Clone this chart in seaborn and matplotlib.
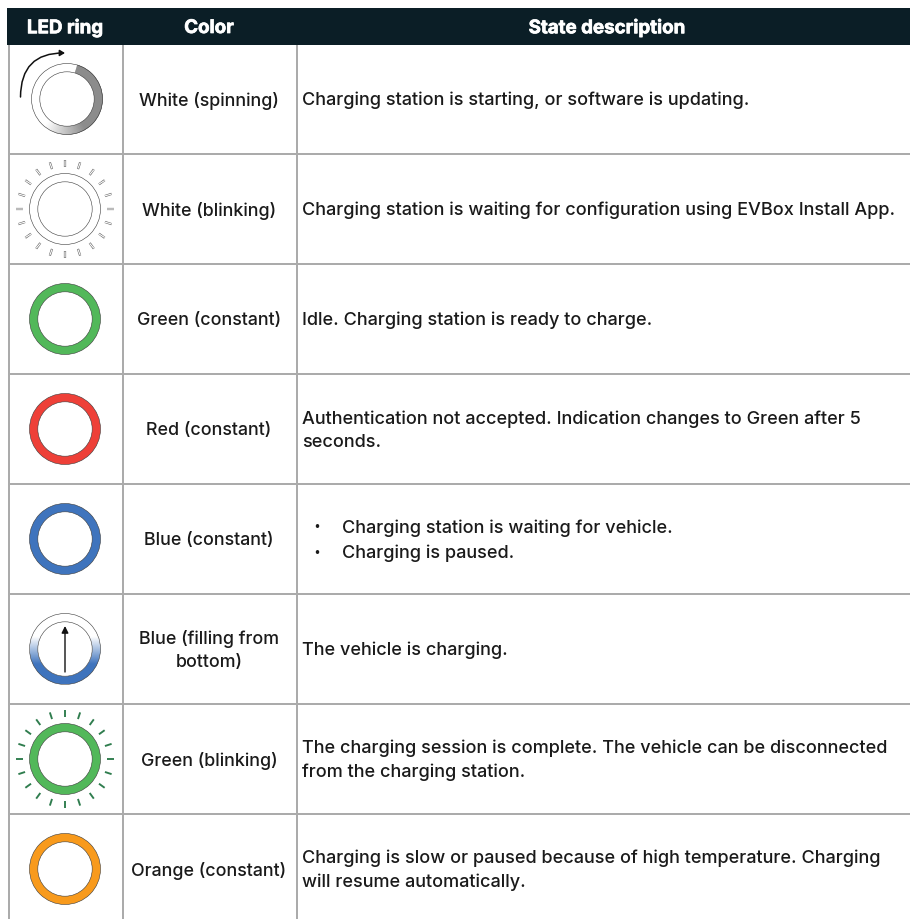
import numpy as np
import pandas as pd
import seaborn as sns
import matplotlib.pyplot as plt
import matplotlib.patheffects as pe
from matplotlib.colors import LinearSegmentedColormap
from matplotlib.patches import Wedge, Rectangle, FancyArrowPatch

color_names = ['White (spinning)', 'White (blinking)', 'Green (constant)', 'Red (constant)',
               'Blue (constant)', 'Blue (filling from\nbottom)', 'Green (blinking)', 'Orange (constant)']
descriptions = ['Charging station is starting, or software is updating.',
                'Charging station is waiting for configuration using EVBox Install App.',
                'Idle. Charging station is ready to charge.',
                'Authentication not accepted. Indication changes to Green after 5\nseconds.',
                None,
                'The vehicle is charging.',
                'The charging session is complete. The vehicle can be disconnected\nfrom the charging station.',
                'Charging is slow or paused because of high temperature. Charging\nwill resume automatically.']
bullets = ['Charging station is waiting for vehicle.', 'Charging is paused.']
headers = ['LED ring', 'Color', 'State description']
ring_colors = ['#ffffff', '#ffffff', '#52b85a', '#ee4038', '#3f74bd', '#ffffff', '#52b85a', '#f89a1c']

row_centers = [99, 209, 319, 429, 539, 649, 759, 869]
row_lines = [154, 264, 374, 484, 594, 704, 814]
col_lines = [8.5, 123, 297]
header_x = [65, 209, 607]

DARK = '#0b1e26'
GRID = '#ababab'
TEXT = '#1a1a1a'
R_OUT = 35.5
R_IN = 27.2
PX = 0.72  # 1 px in points at dpi 100
FS = 13.03

sns.set_theme(style='white')
plt.rcParams['font.family'] = ['Inter', 'DejaVu Sans']

fig = plt.figure(figsize=(9.10, 9.19), dpi=100)
ax = fig.add_axes([0, 0, 1, 1])

# grid and header
ax.vlines(col_lines, 45, 919, color=GRID, lw=2 * PX, zorder=1)
ax.hlines(row_lines, col_lines[0], 910, color=GRID, lw=2 * PX, zorder=1)
ax.add_patch(Rectangle((7, 8), 903, 37, color=DARK, lw=0, zorder=2))
for x, h in zip(header_x, headers):
    t = ax.text(x, 28.5, h, color='white', fontsize=13.5, fontweight='bold', ha='center', va='center', zorder=3)
    t.set_path_effects([pe.withStroke(linewidth=0.5, foreground='white')])

# rings
rings = pd.DataFrame({'x': [67] + [65] * 7, 'y': row_centers, 'color': ring_colors})
sns.scatterplot(data=rings, x='x', y='y', hue='color', palette={c: c for c in ring_colors}, legend=False,
                s=(2 * R_OUT * PX) ** 2, marker='o', edgecolor='none', linewidth=0, ax=ax, zorder=4)


def ring_wedge(i, theta1, theta2, color):
    return Wedge((rings.x[i], rings.y[i]), R_OUT, theta1, theta2, width=R_OUT - R_IN, color=color, lw=0.3, zorder=5)


# spinning ring, angles are mirrored since the y axis points down
cmap = LinearSegmentedColormap.from_list('spin', [(0, '#8c8c8c'), (0.65, '#8c8c8c'), (1, '#ffffff')])
for a in np.arange(-73, 130, 1.0):
    ax.add_patch(ring_wedge(0, a, a + 1.5, cmap((a + 73) / 203)))

# filling ring, gradient image clipped to the ring
grad = np.linspace(0, 1, 200).reshape(-1, 1)
fill_cmap = LinearSegmentedColormap.from_list('fill', [(0, '#ffffff'), (0.33, '#ffffff'), (0.72, '#3f74bd'), (1, '#3f74bd')])
y0 = row_centers[5]
im = ax.imshow(fill_cmap(grad), extent=(65 - R_OUT, 65 + R_OUT, y0 + R_OUT, y0 - R_OUT), aspect='auto', zorder=5)
im.set_clip_path(Wedge((65, y0), R_OUT, 0, 360, width=R_OUT - R_IN, transform=ax.transData))

ax.set_xlim(0, 910)
ax.set_ylim(919, 0)
ax.axis('off')

# thin outlines on top
for i in range(8):
    ax.add_patch(plt.Circle((rings.x[i], rings.y[i]), R_OUT, fill=False, ec='#3a3a3a', lw=0.4, zorder=6))
    ax.add_patch(plt.Circle((rings.x[i], rings.y[i]), R_IN, fc='white', ec='#3a3a3a', lw=0.4, zorder=5.5))

# blink ticks
for a in np.deg2rad(np.arange(0, 360, 18)):
    cx, cy = np.cos(a), np.sin(a)
    xs = [65 + 42 * cx, 65 + 49 * cx]
    ax.plot(xs, [row_centers[1] + 42 * cy, row_centers[1] + 49 * cy], color='#666666', lw=2.2 * PX, zorder=4,
            solid_capstyle='butt', snap=False)
    ax.plot(xs, [row_centers[1] + 42.5 * cy, row_centers[1] + 48.5 * cy], color='white', lw=1.1 * PX, zorder=4,
            solid_capstyle='butt', snap=False)
    ax.plot(xs, [row_centers[6] + 42 * cy, row_centers[6] + 49 * cy], color='#2f7d4e', lw=1.9 * PX, zorder=4,
            solid_capstyle='butt', snap=False)

# arrows
ax.add_patch(FancyArrowPatch((20.5, 97), (65, 53), connectionstyle='arc3,rad=-0.5', arrowstyle='-|>,head_length=3,head_width=1.8',
                             color='#111111', lw=1.1, shrinkA=0, shrinkB=0, zorder=7))
ax.add_patch(FancyArrowPatch((65, 672), (65, 626), arrowstyle='-|>,head_length=4,head_width=2',
                             color='#111111', lw=1.0, shrinkA=0, shrinkB=0, zorder=7))

# text
for y, name, desc in zip(row_centers, color_names, descriptions):
    ax.text(209, y + 1.5, name, color=TEXT, fontsize=12.85, ha='center', va='center', linespacing=1.5, fontweight='medium')
    if desc:
        ax.text(302, y + 1.5, desc, color=TEXT, fontsize=FS, ha='left', va='center', linespacing=1.5, fontweight='medium')
for y, b in zip([528.5, 553.5], bullets):
    ax.text(317, y, '·', color=TEXT, fontsize=FS + 2, ha='center', va='center', fontweight='bold')
    ax.text(342, y, b, color=TEXT, fontsize=FS, ha='left', va='center', fontweight='medium')

fig.savefig('out.png', dpi=100)
